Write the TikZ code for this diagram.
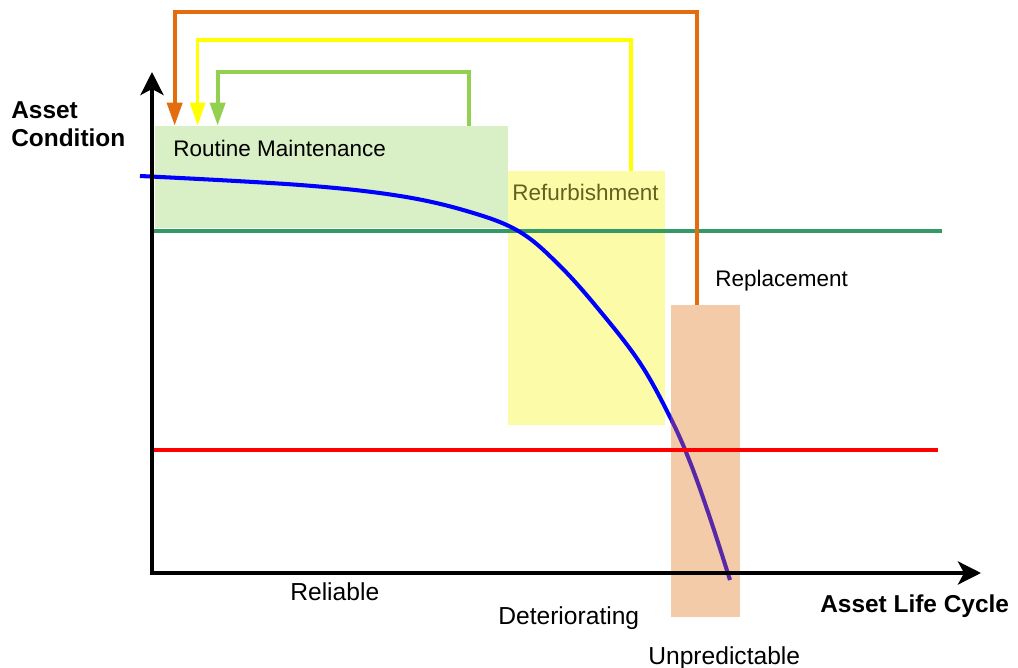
\documentclass[tikz,border=0pt]{standalone}
\usepackage{fontspec}
\setmainfont{Liberation Sans}
\usetikzlibrary{arrows.meta, positioning, calc, fit}
\definecolor{rmcolor}{RGB}{217, 239, 197}
\definecolor{rfcolor}{RGB}{251, 251, 168}
\definecolor{rpcolor}{RGB}{244, 203, 168}
\definecolor{rmline}{RGB}{146, 208, 80}
\definecolor{rfline}{RGB}{255, 255, 0}
\definecolor{rpline}{RGB}{226, 108, 14}
\definecolor{okline}{RGB}{51, 153, 102}
\definecolor{textolive}{RGB}{98, 98, 32}
\definecolor{curvepurple}{RGB}{88, 40, 168}
\tikzset{
	stagebox/.style={draw=none, shape=rectangle, inner sep=0pt},
	axis/.style={line width=2.3pt, -{Stealth[length=0.46cm, width=0.46cm, inset=0.12cm]}},
	level/.style={line width=2.2pt},
	condition/.style={line width=2.3pt, line join=round},
	feedback/.style={line width=2.2pt, -{Triangle[length=0.46cm, width=0.3cm]}},
	boxlabel/.style={font=\fontsize{12.8}{15}\selectfont, inner sep=0pt, anchor=base west},
	phase/.style={font=\fontsize{14}{16}\selectfont, inner sep=0pt, anchor=base west},
	axislabel/.style={font=\fontsize{13.9}{16.4}\selectfont\bfseries, inner sep=0pt, align=left}
}

\begin{document}
\begin{tikzpicture}[x=0.02cm, y=-0.02cm]
	\useasboundingbox (0,0) rectangle (1018,668);

	% boxes
	\node (rm) [stagebox, fill=rmcolor, fit={(155,126) (508,228)}] {};
	\node (rf) [stagebox, fill=rfcolor, fit={(508,171) (665,425)}] {};

	% threshold lines
	\coordinate (okL) at (150,231);
	\coordinate (okR) at (942,231);
	\coordinate (badL) at (150,450);
	\coordinate (badR) at (938,450);
	\draw[level, okline] (okL) -- (okR);

	% condition curve
	\def\conditionpath{plot[smooth, tension=0.6] coordinates {(140,176) (300,185) (400,196) (470,212) (520,232) (560,266) (600,311) (640,363) (670,417) (690,462) (710,518) (730,580)}}
	\draw[condition, blue] \conditionpath;

	% replacement box over the curve
	\node (rp) [stagebox, fill=rpcolor, fit={(671,305) (740,617)}] {};
	\begin{scope}
		\clip (rp.south west) rectangle (rp.north east);
		\draw[condition, curvepurple] \conditionpath;
	\end{scope}
	\draw[level, red] (badL) -- (badR);

	% axes
	\coordinate (origin) at (152,575);
	\draw[axis] (origin) -- (152,72);
	\draw[axis] (150,573) -- (981,573);

	% labels
	\node (ac) [axislabel, anchor=north west] at (11,101) {Asset\\Condition};
	\node (alc) [axislabel, anchor=base west] at (820,613) {Asset Life Cycle};
	\node (rmtext) [boxlabel] at (173,157) {Routine Maintenance};
	\node (rftext) [boxlabel, text=textolive] at (512,201) {Refurbishment};
	\node (rptext) [boxlabel] at (715,287) {Replacement};
	\node (reliable) [phase] at (290,601) {Reliable};
	\node (deter) [phase] at (498,624) {Deteriorating};
	\node (unpred) [phase] at (648,664) {Unpredictable};

	% feedback loops
	\coordinate (topO) at (0,12);
	\coordinate (topY) at (0,40);
	\coordinate (topG) at (0,72);
	\draw[feedback, rpline] ([xshift=-0.17cm]rp.north) -- ([xshift=-0.17cm]rp.north |- topO) -| ([xshift=0.4cm]rm.north west);
	\draw[feedback, rfline, line width=1.8pt] ([xshift=0.89cm]rf.north) -- ([xshift=0.89cm]rf.north |- topY) -| ([xshift=0.86cm]rm.north west);
	\draw[feedback, rmline] ([xshift=-0.78cm]rm.north east) -- ([xshift=-0.78cm]rm.north east |- topG) -| ([xshift=1.26cm]rm.north west);
\end{tikzpicture}
\end{document}
